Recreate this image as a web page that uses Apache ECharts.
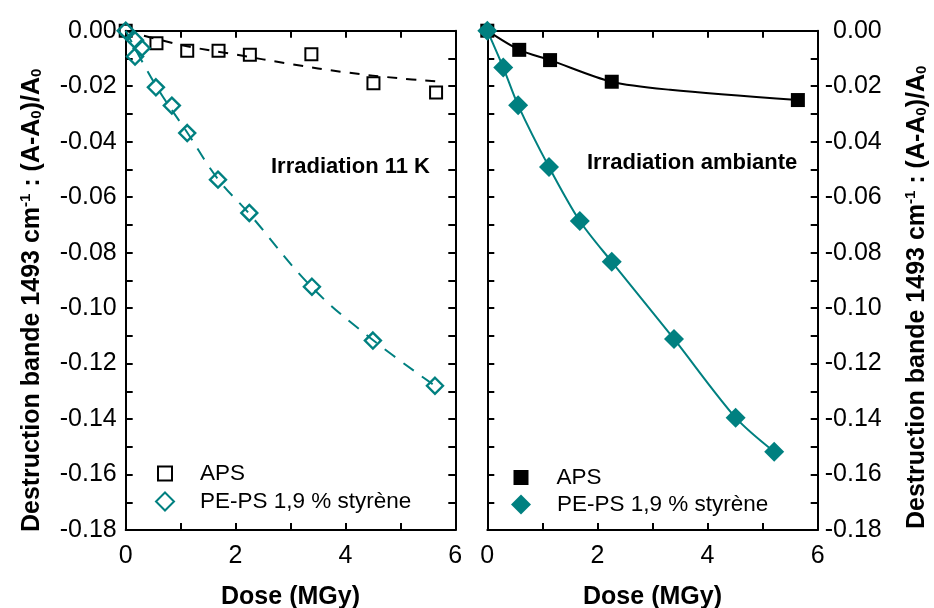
<!DOCTYPE html>
<html>
<head>
<meta charset="utf-8">
<script src="https://cdn.jsdelivr.net/npm/echarts@6/dist/echarts.min.js"></script>
<style>
html,body{margin:0;padding:0;background:#fff;}
#chart{width:934px;height:608px;}
</style>
</head>
<body>
<div id="chart"></div>
<script>
// ---- Data ----
const apsColdDose  = [0, 0.56, 1.12, 1.69, 2.26, 3.38, 4.51, 5.65];
const apsColdVal   = [0, -0.0045, -0.0072, -0.0072, -0.0087, -0.0085, -0.0189, -0.0223];
const apsColdFitDose = [0, 1, 2, 3, 4, 5, 5.65];
const apsColdFitVal  = [0, -0.0051, -0.0086, -0.0120, -0.0150, -0.0172, -0.0182];

const pepsColdDose = [0, 0.17, 0.29, 0.17, 0.55, 0.84, 1.12, 1.68, 2.25, 3.39, 4.50, 5.63];
const pepsColdVal  = [0, -0.0034, -0.0063, -0.0093, -0.0204, -0.0270, -0.0369, -0.0537, -0.0657, -0.0923, -0.1117, -0.1280];
const pepsColdFitDose = [0, 0.55, 1.12, 1.68, 2.25, 3.39, 4.50, 5.63];
const pepsColdFitVal  = [0, -0.0198, -0.0367, -0.0535, -0.0660, -0.0925, -0.1115, -0.1280];

const apsAmbDose = [0, 0.58, 1.14, 2.26, 5.64];
const apsAmbVal  = [0, -0.0069, -0.0106, -0.0184, -0.0250];
const apsAmbLineDose = [0, 0.58, 1.14, 2.26, 3.32, 5.64];
const apsAmbLineVal  = [0, -0.0069, -0.0106, -0.0184, -0.0213, -0.0250];

const pepsAmbDose = [0, 0.29, 0.56, 1.12, 1.68, 2.26, 3.39, 4.51, 5.21];
const pepsAmbVal  = [0, -0.0133, -0.0269, -0.0491, -0.0686, -0.0833, -0.1111, -0.1395, -0.1518];

const legendNames = ['APS', 'PE-PS 1,9 % styrène'];
const panelTexts = ['Irradiation 11 K', 'Irradiation ambiante'];
const xTitle = 'Dose (MGy)';

// ---- helpers ----
const zip = (xs, ys) => xs.map((x, i) => [x, ys[i]]);
const TEAL = '#008080';
const FONT = 'Liberation Sans, Arial, sans-serif';

const yTitle = 'Destruction bande 1493 cm{sup|-1} : (A-A{sub|0})/A{sub|0}';
function yTitleStyle(shift) {
  return {
    fontFamily: FONT, fontSize: 25, fontWeight: 'bold', color: '#000',
    padding: [0, shift, 0, 0],
    rich: {
      sup: {fontFamily: FONT, fontSize: 15, fontWeight: 'bold', color: '#000', verticalAlign: 'top', padding: [0,0,11,0]},
      sub: {fontFamily: FONT, fontSize: 15, fontWeight: 'bold', color: '#000', verticalAlign: 'bottom', padding: [11,0,0,0]}
    }
  };
}

function xAxisPair(gi) {
  const common = {
    type: 'value', min: 0, max: 6, interval: 2, gridIndex: gi,
    axisLine: {show: true, onZero: false, lineStyle: {color: '#000', width: 2}},
    axisTick: {show: true, inside: true, length: 7, lineStyle: {color: '#000', width: 2}},
    minorTick: {show: true, splitNumber: 2, length: 7, lineStyle: {color: '#000', width: 2}},
    splitLine: {show: false}
  };
  return [
    Object.assign({}, common, {
      position: 'bottom',
      axisLabel: {show: true, fontFamily: FONT, fontSize: 25, color: '#000', margin: 14},
      name: xTitle, nameLocation: 'middle', nameGap: 55,
      nameTextStyle: {fontFamily: FONT, fontSize: 25, fontWeight: 'bold', color: '#000'}
    }),
    Object.assign({}, common, {position: 'top', axisLabel: {show: false}})
  ];
}

function yAxisPair(gi, labelSide) {
  const common = {
    type: 'value', min: -0.18, max: 0, interval: 0.02, gridIndex: gi,
    axisLine: {show: true, onZero: false, lineStyle: {color: '#000', width: 2}},
    axisTick: {show: true, inside: true, length: 7, lineStyle: {color: '#000', width: 2}},
    minorTick: {show: true, splitNumber: 2, length: 7, lineStyle: {color: '#000', width: 2}},
    splitLine: {show: false}
  };
  const lab = {show: true, fontFamily: FONT, fontSize: 25, color: '#000',
               formatter: v => v.toFixed(2)};
  const left = Object.assign({}, common, {position: 'left', axisLabel: {show: false}});
  const right = Object.assign({}, common, {position: 'right', axisLabel: {show: false}});
  if (labelSide === 'left') {
    left.axisLabel = Object.assign({}, lab, {margin: 9});
    left.name = yTitle; left.nameLocation = 'middle'; left.nameGap = 81; left.nameRotate = 90;
    left.nameTextStyle = yTitleStyle(40);
  } else {
    right.axisLabel = Object.assign({}, lab, {margin: 64, align: 'right'});
    right.name = yTitle; right.nameLocation = 'middle'; right.nameGap = 86; right.nameRotate = 90;
    right.nameTextStyle = yTitleStyle(34);
  }
  return [left, right];
}

const xa = xAxisPair(0).concat(xAxisPair(1));   // 0 bottom-L, 1 top-L, 2 bottom-R, 3 top-R
const ya = yAxisPair(0, 'left').concat(yAxisPair(1, 'right')); // 0 L-L, 1 L-R, 2 R-L, 3 R-R

function oneLegend(name, left, top, size, pad) {
  return {
    orient: 'vertical', left: left, top: top, itemWidth: size, itemHeight: size,
    data: [name], formatter: n => n.split('|')[0], selectedMode: false,
    textStyle: {fontFamily: FONT, fontSize: 22.5, color: '#000', padding: [0,0,0,pad]}
  };
}

const option = {
  backgroundColor: '#fff',
  animation: false,
  grid: [
    {left: 125.7, top: 30.7, width: 329.6, height: 499.3, containLabel: false, outerBoundsMode: 'none'},
    {left: 487.3, top: 30.7, width: 330.4, height: 499.3, containLabel: false, outerBoundsMode: 'none'}
  ],
  xAxis: xa,
  yAxis: ya,
  legend: [
    oneLegend(legendNames[0], 152, 457, 14, 23),
    oneLegend(legendNames[1], 150, 485, 18, 21),
    oneLegend(legendNames[0] + '|R', 508.5, 461, 15, 23),
    oneLegend(legendNames[1] + '|R', 506, 488, 20, 21)
  ],
  graphic: [
    {type: 'text', left: 271, top: 156, style: {text: panelTexts[0], fontFamily: FONT, fontSize: 22, fontWeight: 'bold', fill: '#000'}},
    {type: 'text', left: 587, top: 152, style: {text: panelTexts[1], fontFamily: FONT, fontSize: 22, fontWeight: 'bold', fill: '#000'}}
  ],
  series: [
    // left panel fits
    {type: 'line', name: 'fitA', xAxisIndex: 0, yAxisIndex: 0, data: zip(apsColdFitDose, apsColdFitVal),
     smooth: 0.4, showSymbol: false, symbol: 'none', lineStyle: {color: '#000', width: 2, type: [10, 9]}, z: 2},
    {type: 'line', name: 'fitB', xAxisIndex: 0, yAxisIndex: 0, data: zip(pepsColdFitDose, pepsColdFitVal),
     smooth: 0.4, showSymbol: false, symbol: 'none', lineStyle: {color: TEAL, width: 2, type: [13, 10]}, z: 2},
    // left panel points
    {type: 'scatter', name: legendNames[0], xAxisIndex: 0, yAxisIndex: 0, data: zip(apsColdDose, apsColdVal),
     symbol: 'rect', symbolSize: 12, itemStyle: {color: 'rgba(0,0,0,0)', borderColor: '#000', borderWidth: 2, opacity: 1}, z: 3},
    {type: 'scatter', name: legendNames[1], xAxisIndex: 0, yAxisIndex: 0, data: zip(pepsColdDose, pepsColdVal),
     symbol: 'diamond', symbolSize: 16, itemStyle: {color: 'rgba(0,0,0,0)', borderColor: TEAL, borderWidth: 2.4, opacity: 1}, z: 3},
    // right panel lines
    {type: 'line', name: 'lineA', xAxisIndex: 2, yAxisIndex: 3, data: zip(apsAmbLineDose, apsAmbLineVal),
     smooth: 0.3, showSymbol: false, symbol: 'none', lineStyle: {color: '#000', width: 2}, z: 2},
    {type: 'line', name: 'lineB', xAxisIndex: 2, yAxisIndex: 3, data: zip(pepsAmbDose, pepsAmbVal),
     smooth: 0.3, showSymbol: false, symbol: 'none', lineStyle: {color: TEAL, width: 2}, z: 2},
    // right panel points
    {type: 'scatter', name: legendNames[0] + '|R', xAxisIndex: 2, yAxisIndex: 3, data: zip(apsAmbDose, apsAmbVal),
     symbol: 'rect', symbolSize: 14, itemStyle: {color: '#000', opacity: 1}, z: 3},
    {type: 'scatter', name: legendNames[1] + '|R', xAxisIndex: 2, yAxisIndex: 3, data: zip(pepsAmbDose, pepsAmbVal),
     symbol: 'diamond', symbolSize: 20, itemStyle: {color: TEAL, opacity: 1}, z: 3}
  ]
};

const chart = echarts.init(document.getElementById('chart'), null, {renderer: 'canvas'});
chart.setOption(option);
</script>
</body>
</html>
